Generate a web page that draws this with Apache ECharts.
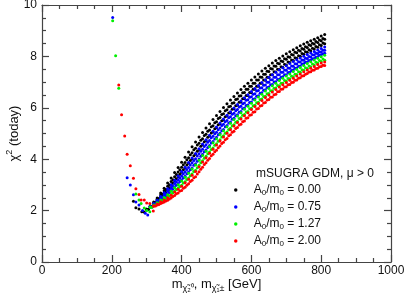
<!DOCTYPE html>
<html><head><meta charset="utf-8">
<script src="https://cdn.jsdelivr.net/npm/echarts@6/dist/echarts.min.js"></script>
<style>html,body{margin:0;padding:0;background:#fff}#c{width:405px;height:294px}</style>
</head><body><div id="c"></div>
<script>
// mass grids (GeV) for the rising branches
const massGridA = [300,310,320,330,340,350,360,370,380,390,400,410,420,430,440,450,460,470,480,490,500,510,520,530,540,550,560,570,580,590,600,610,620,630,640,650,660,670,680,690,700,710,720,730,740,750,760,770,780,790,800,810];
const massGridB = [305,315,325,335,345,355,365,375,385,395,405,415,425,435,445,455,465,475,485,495,505,515,525,535,545,555,565,575,585,595,605,615,625,635,645,655,665,675,685,695,705,715,725,735,745,755,765,775,785,795,805];

// A0/m0 = 0.00 (black)
const black1 = [2.05,2.18,2.33,2.49,2.68,2.87,3.07,3.27,3.48,3.68,3.88,4.08,4.28,4.48,4.67,4.86,5.04,5.21,5.38,5.54,5.70,5.86,6.01,6.16,6.30,6.44,6.58,6.71,6.84,6.96,7.08,7.20,7.32,7.43,7.54,7.64,7.74,7.84,7.93,8.02,8.10,8.18,8.26,8.34,8.41,8.48,8.55,8.61,8.67,8.73,8.79,8.85];
const black2 = [2.05,2.17,2.32,2.47,2.64,2.82,3.01,3.20,3.40,3.59,3.78,3.98,4.17,4.37,4.55,4.74,4.92,5.09,5.26,5.42,5.58,5.74,5.89,6.04,6.18,6.32,6.46,6.59,6.72,6.84,6.96,7.08,7.20,7.31,7.42,7.53,7.63,7.73,7.82,7.91,7.99,8.07,8.16,8.24,8.31,8.38,8.45,8.51,8.58,8.64,8.70,8.76];
const black3 = [2.05,2.17,2.30,2.44,2.61,2.77,2.95,3.13,3.32,3.50,3.69,3.87,4.06,4.25,4.43,4.62,4.80,4.97,5.14,5.30,5.46,5.62,5.77,5.92,6.06,6.20,6.34,6.47,6.60,6.72,6.84,6.96,7.08,7.19,7.31,7.41,7.51,7.62,7.71,7.80,7.89,7.97,8.05,8.14,8.21,8.28,8.35,8.42,8.48,8.54,8.61,8.67];
const black4 = [2.05,2.16,2.29,2.42,2.57,2.73,2.89,3.06,3.24,3.41,3.59,3.77,3.95,4.13,4.31,4.50,4.68,4.85,5.02,5.18,5.34,5.50,5.65,5.80,5.94,6.08,6.22,6.35,6.48,6.60,6.72,6.84,6.96,7.08,7.19,7.29,7.40,7.50,7.60,7.69,7.78,7.86,7.95,8.03,8.11,8.18,8.26,8.32,8.39,8.45,8.52,8.58];
const black5 = [2.05,2.16,2.27,2.39,2.54,2.68,2.83,2.99,3.16,3.33,3.49,3.66,3.84,4.02,4.19,4.38,4.56,4.73,4.90,5.06,5.22,5.38,5.53,5.68,5.82,5.96,6.10,6.23,6.36,6.48,6.60,6.72,6.84,6.96,7.07,7.18,7.29,7.39,7.49,7.58,7.67,7.76,7.84,7.93,8.01,8.08,8.16,8.22,8.29,8.36,8.42,8.49];
const blackLow = [[262,2.36],[269,2.11],[278,2.06],[286,1.96],[293,1.95]];

// A0/m0 = 0.75 (blue)
const blue1 = [null,2.16,2.28,2.40,2.55,2.69,2.85,3.01,3.18,3.35,3.52,3.69,3.87,4.05,4.22,4.41,4.59,4.76,4.93,5.09,5.25,5.41,5.56,5.71,5.85,5.99,6.13,6.26,6.39,6.51,6.63,6.75,6.87,6.98,7.09,7.19,7.29,7.38,7.47,7.56,7.64,7.72,7.80,7.87,7.94,8.01,8.07,8.13,8.19,8.25,8.31,8.37];
const blue2 = [null,2.15,2.26,2.38,2.52,2.65,2.80,2.95,3.12,3.27,3.43,3.60,3.77,3.95,4.12,4.31,4.49,4.66,4.83,4.99,5.15,5.31,5.46,5.61,5.75,5.89,6.03,6.16,6.29,6.41,6.53,6.65,6.77,6.88,6.99,7.09,7.19,7.29,7.38,7.47,7.55,7.63,7.71,7.79,7.86,7.93,8.00,8.06,8.12,8.18,8.24,8.30];
const blue3 = [null,2.15,2.25,2.36,2.49,2.61,2.75,2.89,3.05,3.20,3.35,3.51,3.68,3.86,4.02,4.21,4.39,4.56,4.73,4.89,5.05,5.21,5.36,5.51,5.65,5.79,5.93,6.06,6.19,6.31,6.43,6.55,6.67,6.78,6.89,6.99,7.09,7.19,7.29,7.38,7.46,7.54,7.62,7.70,7.78,7.85,7.92,7.98,8.05,8.11,8.17,8.24];
const blue4 = [null,2.14,2.24,2.34,2.46,2.57,2.70,2.84,2.99,3.13,3.27,3.43,3.59,3.76,3.92,4.11,4.29,4.46,4.63,4.79,4.95,5.11,5.26,5.41,5.55,5.69,5.83,5.96,6.09,6.21,6.33,6.45,6.57,6.68,6.79,6.90,7.00,7.10,7.19,7.29,7.37,7.45,7.54,7.62,7.70,7.77,7.84,7.91,7.97,8.04,8.10,8.17];
const blue5 = [null,2.14,2.23,2.32,2.43,2.53,2.65,2.78,2.92,3.05,3.19,3.34,3.50,3.66,3.82,4.01,4.19,4.36,4.53,4.69,4.85,5.01,5.16,5.31,5.45,5.59,5.73,5.86,5.99,6.11,6.23,6.35,6.47,6.59,6.70,6.81,6.91,7.01,7.11,7.21,7.29,7.38,7.47,7.55,7.63,7.71,7.78,7.85,7.92,7.99,8.06,8.12];
const blueLow = [[202.5,9.51],[244,3.28],[253,3.00],[262,2.62],[269,2.33],[278,2.22],[288,2.0],[296,1.9],[303,1.83]];

// A0/m0 = 1.27 (green)
const green1 = [null,2.14,2.22,2.31,2.41,2.51,2.62,2.75,2.89,3.01,3.15,3.30,3.45,3.62,3.77,3.96,4.14,4.31,4.48,4.64,4.80,4.96,5.11,5.26,5.40,5.54,5.68,5.81,5.94,6.06,6.18,6.30,6.42,6.53,6.65,6.75,6.86,6.96,7.06,7.15,7.24,7.32,7.41,7.49,7.57,7.65,7.72,7.79,7.86,7.93,7.99,8.04];
const green2 = [null,2.13,2.21,2.29,2.38,2.47,2.57,2.69,2.82,2.94,3.07,3.21,3.36,3.52,3.67,3.86,4.04,4.21,4.38,4.54,4.70,4.86,5.01,5.16,5.30,5.44,5.58,5.71,5.84,5.96,6.08,6.20,6.32,6.44,6.55,6.66,6.76,6.87,6.96,7.06,7.14,7.23,7.31,7.40,7.48,7.56,7.63,7.70,7.77,7.84,7.90,7.95];
const green3 = [null,2.13,2.20,2.27,2.35,2.43,2.52,2.63,2.75,2.87,2.99,3.12,3.27,3.42,3.57,3.76,3.94,4.11,4.28,4.44,4.60,4.76,4.91,5.06,5.20,5.34,5.48,5.61,5.74,5.86,5.98,6.10,6.22,6.34,6.45,6.56,6.66,6.77,6.86,6.96,7.04,7.13,7.21,7.30,7.38,7.46,7.53,7.60,7.67,7.74,7.80,7.85];
const greenLow = [[202.5,9.39],[211,8.03],[220,6.76],[269,2.65],[278,2.41],[284,2.28],[293,2.1],[300,2.0],[309,1.96]];

// A0/m0 = 2.00 (red)
const red1 = [null,null,2.19,2.26,2.34,2.41,2.50,2.60,2.72,2.83,2.95,3.08,3.22,3.38,3.52,3.71,3.89,4.06,4.23,4.39,4.55,4.71,4.86,5.01,5.15,5.29,5.43,5.56,5.69,5.81,5.93,6.05,6.17,6.28,6.40,6.50,6.61,6.71,6.81,6.90,6.98,7.07,7.15,7.24,7.32,7.40,7.47,7.54,7.61,7.68,7.74,7.78];
const red2 = [null,null,2.18,2.24,2.31,2.37,2.45,2.55,2.66,2.76,2.87,2.99,3.13,3.28,3.42,3.61,3.79,3.96,4.13,4.29,4.45,4.61,4.76,4.91,5.05,5.19,5.33,5.46,5.59,5.71,5.83,5.95,6.07,6.19,6.30,6.41,6.51,6.62,6.72,6.81,6.90,6.98,7.07,7.15,7.24,7.31,7.39,7.46,7.53,7.60,7.66,7.71];
const red3 = [null,null,2.17,2.22,2.28,2.33,2.40,2.49,2.59,2.68,2.78,2.91,3.04,3.18,3.32,3.51,3.69,3.86,4.03,4.19,4.35,4.51,4.66,4.81,4.95,5.09,5.23,5.36,5.49,5.61,5.73,5.85,5.97,6.09,6.21,6.32,6.42,6.53,6.63,6.73,6.82,6.91,6.99,7.08,7.17,7.25,7.33,7.40,7.47,7.54,7.61,7.65];
const redLow = [[220,6.89],[228,5.73],[237,4.90],[244,4.19],[253,3.75],[262,3.26],[269,2.85],[278,2.63],[284,2.41],[293,2.41],[300,2.3],[309,2.28],[319,1.98]];

const seriesNames = ['0.00','0.75','1.27','2.00'];
const seriesColors = ['#000000','#0000ff','#00f000','#ff0000'];
const xTicks = {min:0, max:1000, interval:200};
const yTicks = {min:0, max:10, interval:2};

function pts(curves, low){
  const out = low.slice();
  curves.forEach(([ys, grid]) => ys.forEach((y,i) => {
    if (y !== null && grid[i] !== undefined) out.push([grid[i], y]);
  }));
  return out;
}
const A = massGridA, B = massGridB;
const groups = [
  pts([[black1,A],[black2,B],[black3,A],[black4,B],[black5,A]], blackLow),
  pts([[blue1,A],[blue2,B],[blue3,A],[blue4,B],[blue5,A]], blueLow),
  pts([[green1,A],[green2,B],[green3,A]], greenLow),
  pts([[red1,A],[red2,B],[red3,A]], redLow)
];

const FONT = "'Liberation Sans', Arial, sans-serif";
const axisCol = '#444';
function xAx(pos, labels){
  return {type:'value', position:pos, min:xTicks.min, max:xTicks.max, interval:xTicks.interval,
    axisLine:{show:true, onZero:false, lineStyle:{color:axisCol, width:1.2}},
    axisTick:{show:true, inside:true, length:7, lineStyle:{color:axisCol, width:1.2}},
    minorTick:{show:true, splitNumber:4, length:4, lineStyle:{color:axisCol, width:1.2}},
    splitLine:{show:false},
    axisLabel:{show:labels, margin:3, color:'#111', fontSize:12, fontFamily:FONT, formatter: v => String(v)},
    name: labels ? 'm{s|χ̃₂⁰}, m{s|χ̃₁±} [GeV]' : '',
    nameLocation:'middle', nameGap:14, nameMoveOverlap:false,
    nameTextStyle:{color:'#111', fontSize:13, fontFamily:FONT,
      rich:{s:{fontSize:9, fontFamily:FONT, color:'#111', padding:[8,0,0,0]}}}
  };
}
function yAx(pos, labels){
  return {type:'value', position:pos, min:yTicks.min, max:yTicks.max, interval:yTicks.interval,
    axisLine:{show:true, onZero:false, lineStyle:{color:axisCol, width:1.2}},
    axisTick:{show:true, inside:true, length:7, lineStyle:{color:axisCol, width:1.2}},
    minorTick:{show:true, splitNumber:4, length:4, lineStyle:{color:axisCol, width:1.2}},
    splitLine:{show:false},
    axisLabel:{show:labels, margin:5, color:'#111', fontSize:12, fontFamily:FONT, formatter: v => String(v)},
    name: labels ? 'χ{p|2} (today)' : '',
    nameLocation:'middle', nameGap:19, nameRotate:90, nameMoveOverlap:false,
    nameTextStyle:{color:'#111', fontSize:13, fontFamily:FONT,
      rich:{p:{fontSize:9, fontFamily:FONT, color:'#111', padding:[0,0,9,0]}}}
  };
}

const chart = echarts.init(document.getElementById('c'), null, {renderer:'canvas'});
chart.setOption({
  animation:false,
  backgroundColor:'#fff',
  grid:{left:42, right:14, top:5, bottom:32, containLabel:false, outerBoundsMode:'none'},
  title:{text:'mSUGRA GDM, μ > 0', left:251, top:163,
    textStyle:{fontSize:12, fontWeight:'normal', color:'#111', fontFamily:FONT}},
  legend:{orient:'vertical', left:229, top:178, itemWidth:26, itemHeight:3.5, itemGap:3,
    icon:'circle', data:seriesNames,
    formatter: n => 'A{s|0}/m{s|0} = ' + n,
    textStyle:{fontSize:12, color:'#111', fontFamily:FONT, lineHeight:14,
      rich:{s:{fontSize:8, fontFamily:FONT, color:'#111', padding:[6,0,0,0]}}}},
  xAxis:[xAx('bottom', true), xAx('top', false)],
  yAxis:[yAx('left', true), yAx('right', false)],
  series: groups.map((d,i) => ({
    type:'scatter', name:seriesNames[i], data:d, symbol:'circle', symbolSize:3,
    itemStyle:{color:seriesColors[i], opacity:1}, emphasis:{disabled:true}, silent:true
  }))
});
</script></body></html>
